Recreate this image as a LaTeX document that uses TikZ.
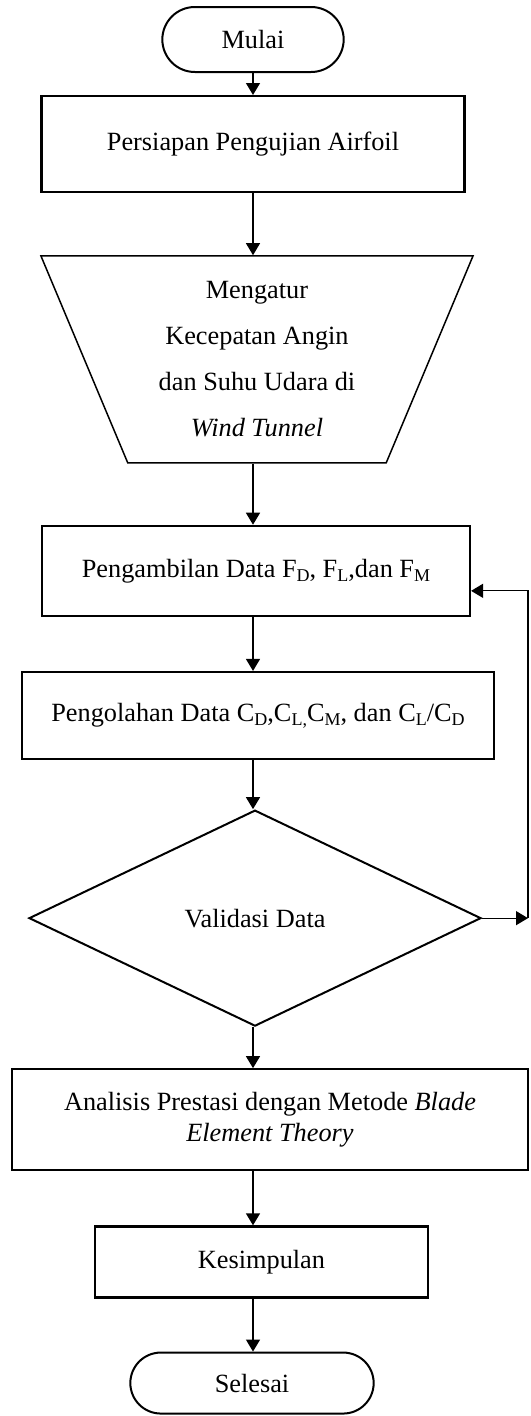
\documentclass[tikz,border=0pt]{standalone}
\usepackage{fontspec}
\setmainfont{Liberation Serif}
\usetikzlibrary{arrows.meta,positioning,shapes.geometric,shapes.misc}

\newcommand{\idx}[1]{\raisebox{-4pt}{\fontsize{18}{18}\selectfont #1}}

\begin{document}
\begin{tikzpicture}[
  x=1pt, y=1pt,
  every node/.style={font=\fontsize{26.3}{30.5}\selectfont},
  box/.style={draw, line width=2.2pt, align=center, inner sep=0pt},
  term/.style={draw, rounded rectangle, line width=2pt, minimum height=65pt},
  trap/.style={draw, trapezium, trapezium left angle=113, trapezium right angle=113, trapezium stretches=true, minimum width=433pt, minimum height=207pt, line width=1.5pt, align=center, inner sep=0pt, font=\fontsize{26.3}{46}\selectfont},
  dec/.style={draw, diamond, line width=2pt, minimum width=452pt, minimum height=216pt, inner sep=0pt},
  arr/.style={-{Triangle[length=12pt,width=14pt]}, line width=1.3pt}]
\useasboundingbox (0,0) rectangle (530,-1416);
\node[term, minimum width=188pt] (mulai) at (253,-39.5) {Mulai};
\node[box, below=22pt of mulai, minimum width=423pt, minimum height=96pt] (siap) {Persiapan Pengujian Airfoil};
\node[trap, below=62pt of siap, xshift=4pt] (atur) {Mengatur\\Kecepatan Angin\\dan Suhu Udara di\\\textit{Wind Tunnel}};
\node[box, below=61pt of atur, xshift=-1pt, minimum width=428pt, minimum height=90pt] (ambil) {Pengambilan Data F\idx{D}, F\idx{L},dan F\idx{M}};
\node[box, below=54pt of ambil, xshift=2pt, minimum width=472pt, minimum height=87pt] (olah) {Pengolahan Data C\idx{D},C\idx{L,}C\idx{M}, dan C\idx{L}/C\idx{D}};
\node[dec, below=49pt of olah, xshift=-3pt] (valid) {Validasi Data};
\node[box, below=41pt of valid, xshift=15pt, minimum width=516pt, minimum height=101pt] (analisis) {Analisis Prestasi dengan Metode \textit{Blade}\\\textit{Element Theory}};
\node[box, below=54pt of analisis, xshift=-8.5pt, minimum width=333pt, minimum height=71pt] (simpul) {Kesimpulan};
\node[term, below=53pt of simpul, xshift=-9.5pt, minimum width=250pt, minimum height=61pt] (selesai) {Selesai};
\foreach \a/\b in {mulai/siap,siap/atur,atur/ambil,ambil/olah,olah/valid,valid/analisis,analisis/simpul,simpul/selesai}
  \draw[arr] (\a.south -| mulai) -- (\b.north -| mulai);
% balik ke pengambilan data
\coordinate[right=46pt of valid.east] (balik);
\draw[arr] (valid.east) -- (balik);
\draw[arr] (balik) |- ([yshift=-20pt]ambil.east);
\end{tikzpicture}
\end{document}
